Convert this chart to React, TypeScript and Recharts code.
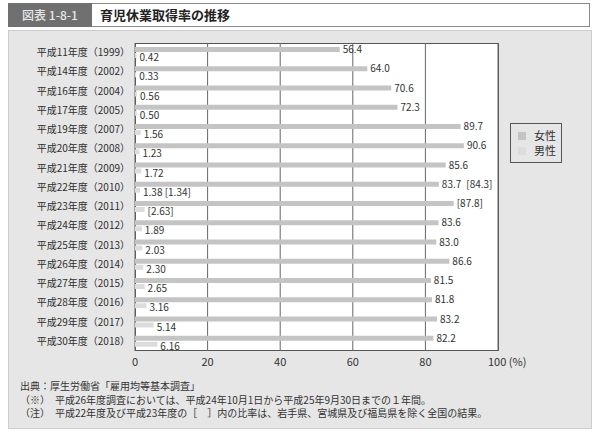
import { BarChart, Bar, XAxis, YAxis, CartesianGrid, Legend, LabelList } from "recharts";

const years = [
  "平成11年度（1999）",
  "平成14年度（2002）",
  "平成16年度（2004）",
  "平成17年度（2005）",
  "平成19年度（2007）",
  "平成20年度（2008）",
  "平成21年度（2009）",
  "平成22年度（2010）",
  "平成23年度（2011）",
  "平成24年度（2012）",
  "平成25年度（2013）",
  "平成26年度（2014）",
  "平成27年度（2015）",
  "平成28年度（2016）",
  "平成29年度（2017）",
  "平成30年度（2018）",
];
const female = [56.4, 64.0, 70.6, 72.3, 89.7, 90.6, 85.6, 83.7, 87.8, 83.6, 83.0, 86.6, 81.5, 81.8, 83.2, 82.2];
const male = [0.42, 0.33, 0.56, 0.5, 1.56, 1.23, 1.72, 1.38, 2.63, 1.89, 2.03, 2.3, 2.65, 3.16, 5.14, 6.16];
const femaleLabels = [
  "56.4", "64.0", "70.6", "72.3", "89.7", "90.6", "85.6", "83.7\u2002[84.3]",
  "[87.8]", "83.6", "83.0", "86.6", "81.5", "81.8", "83.2", "82.2",
];
const maleLabels = [
  "0.42", "0.33", "0.56", "0.50", "1.56", "1.23", "1.72", "1.38 [1.34]",
  "[2.63]", "1.89", "2.03", "2.30", "2.65", "3.16", "5.14", "6.16",
];
const xTicks = [0, 20, 40, 60, 80, 100];
const notes = [
  "出典：厚生労働省「雇用均等基本調査」",
  "（※）　平成26年度調査においては、平成24年10月1日から平成25年9月30日までの１年間。",
  "（注）　平成22年度及び平成23年度の［　］内の比率は、岩手県、宮城県及び福島県を除く全国の結果。",
];

const FONT = '"Noto Sans CJK JP", "Noto Sans", sans-serif';

const rows = years.map((year, i) => ({
  year,
  female: female[i],
  male: male[i],
  fLabel: femaleLabels[i],
  mLabel: maleLabels[i],
}));

function XTick({ x, y, payload }: any) {
  const v = payload.value;
  return (
    <text
      x={v === 100 ? x - 10 : x}
      y={y + 7}
      textAnchor={v === 100 ? "start" : "middle"}
      fontSize={11}
      fill="#333"
      fontFamily={FONT}
    >
      {v === 100 ? "100 (%)" : v}
    </text>
  );
}

function LegendBox({ payload }: any) {
  return (
    <div
      style={{
        border: "1px solid #555",
        background: "#e6e6e6",
        padding: "4px 0 4px 7px",
        width: 52,
        boxSizing: "border-box",
        fontFamily: FONT,
      }}
    >
      {(payload || []).map((p: any) => (
        <div
          key={p.value}
          style={{ display: "flex", alignItems: "center", fontSize: 11, lineHeight: "15px", color: "#333" }}
        >
          <span style={{ width: 8, height: 8, background: p.color, marginRight: 8, display: "inline-block" }} />
          {p.value}
        </div>
      ))}
    </div>
  );
}

export default function App() {
  return (
    <div
      style={{
        position: "fixed",
        left: 0,
        top: 0,
        width: 600,
        height: 436,
        background: "#fff",
        fontFamily: FONT,
        overflow: "hidden",
      }}
    >
      {/* header */}
      <div
        style={{
          position: "absolute", left: 8, top: 3, width: 582, height: 24,
          border: "1.5px solid #8a8a8a", background: "#fff", boxSizing: "border-box",
        }}
      />
      <div
        style={{
          position: "absolute", left: 8, top: 3, width: 84, height: 24, background: "#707070",
          color: "#e8e8e8", fontSize: 12, fontWeight: 500, lineHeight: "24px", textAlign: "center",
        }}
      >
        図表 1-8-1
      </div>
      <div
        style={{
          position: "absolute", left: 100, top: 3, height: 24, lineHeight: "24px",
          fontSize: 13, fontWeight: "bold", color: "#222",
        }}
      >
        育児休業取得率の推移
      </div>

      {/* panel */}
      <div
        style={{
          position: "absolute", left: 8, top: 30, width: 584, height: 399,
          background: "#e6e6e6", border: "1px solid #cdcdcd", boxSizing: "border-box",
        }}
      />
      <div
        style={{
          position: "absolute", left: 135, top: 43, width: 364, height: 308,
          background: "#fff", border: "1px solid #555", boxSizing: "border-box",
        }}
      />

      {notes.map((n, i) => (
        <div
          key={i}
          style={{
            position: "absolute", left: 20, top: 379 + i * 13.5, fontSize: 10,
            lineHeight: "14px", color: "#333", whiteSpace: "pre",
          }}
        >
          {n}
        </div>
      ))}

      <div style={{ position: "absolute", left: 0, top: 0 }}>
        <BarChart
          width={600}
          height={436}
          data={rows}
          layout="vertical"
          margin={{ top: 43, right: 102, bottom: 55, left: 0 }}
          barSize={5}
          barGap={1}
        >
          <CartesianGrid horizontal={false} stroke="#666" />
          <XAxis
            type="number"
            domain={[0, 100]}
            ticks={xTicks}
            height={30}
            axisLine={false}
            tickLine={false}
            tick={<XTick />}
            interval={0}
          />
          <YAxis
            type="category"
            dataKey="year"
            width={135}
            axisLine={false}
            tickLine={false}
            tickSize={3}
            tickMargin={2}
            interval={0}
            tick={{ fontSize: 10, fill: "#2e2e2e", fontFamily: FONT }}
          />
          <Legend
            layout="vertical"
            align="center"
            verticalAlign="middle"
            wrapperStyle={{ left: 510, top: 123, width: 52 }}
            content={<LegendBox />}
          />
          <Bar dataKey="female" name="女性" fill="#c4c4c4" isAnimationActive={false}>
            <LabelList dataKey="fLabel" position="right" offset={3} fontSize={10} fill="#333" fontFamily={FONT} />
          </Bar>
          <Bar dataKey="male" name="男性" fill="#dcdcdc" isAnimationActive={false}>
            <LabelList dataKey="mLabel" position="right" offset={3} dy={2} fontSize={10} fill="#333" fontFamily={FONT} />
          </Bar>
        </BarChart>
      </div>
    </div>
  );
}
